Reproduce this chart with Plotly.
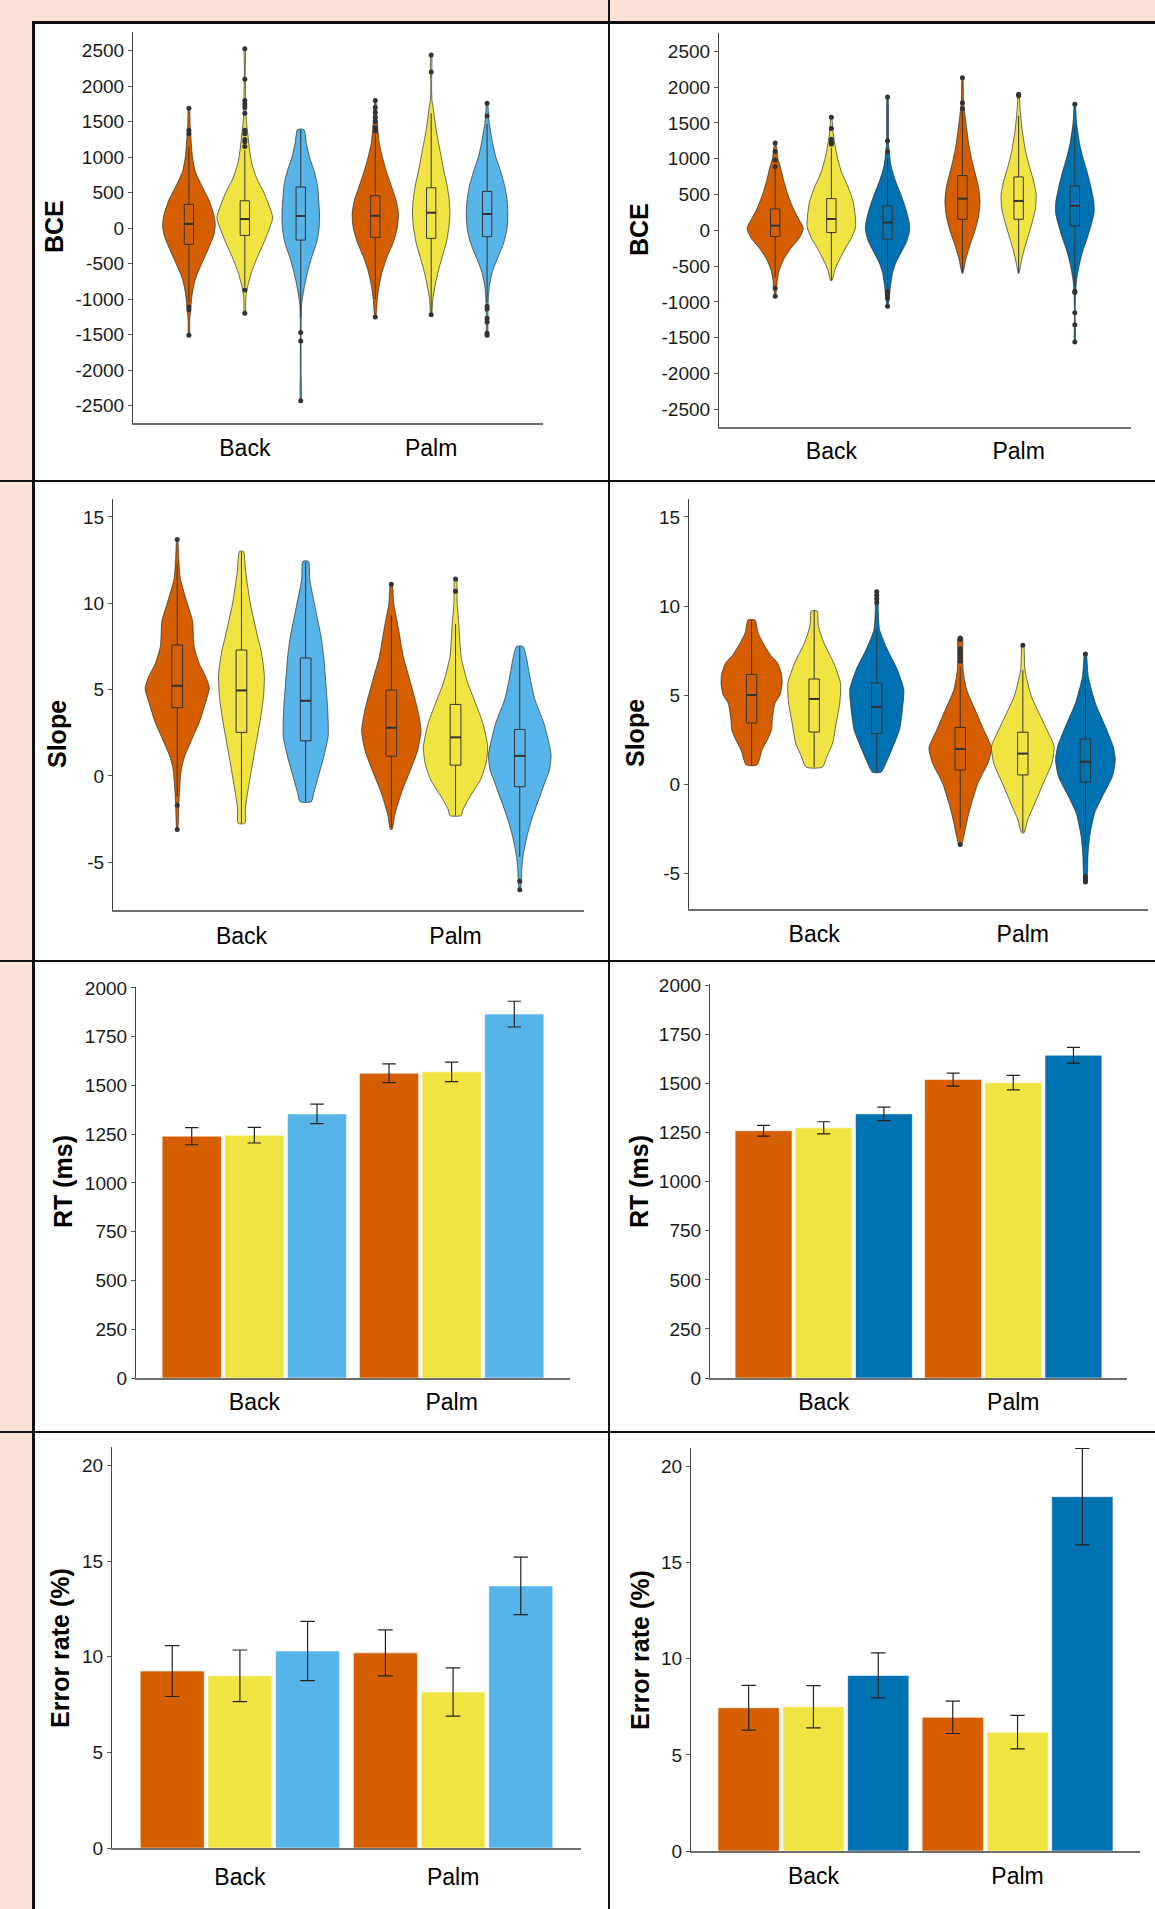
import plotly.graph_objects as go

W, H = 1155, 1909
GROUPS = ["Back", "Palm"]
COLORS_LEFT = ["#D55E00", "#F0E442", "#56B4E9"]
COLORS_RIGHT = ["#D55E00", "#F0E442", "#0072B2"]

# ---------------- BCE (left column) ----------------
# order: Back-orange, Back-yellow, Back-blue, Palm-orange, Palm-yellow, Palm-blue
BCE_L_VIOLIN_Y = [
    [-1510, -1300, -1100, -900, -700, -500, -300, -100, 50, 200, 400, 600, 800, 1000, 1200, 1450, 1690],
    [-1200, -950, -800, -600, -400, -200, 0, 150, 300, 500, 700, 900, 1100, 1300, 1500, 1900, 2200, 2530],
    [-2430, -2000, -1500, -1100, -1000, -800, -600, -400, -200, 0, 200, 400, 600, 800, 1000, 1200, 1390],
    [-1250, -1000, -800, -600, -400, -200, 0, 200, 400, 600, 800, 1000, 1200, 1500, 1800],
    [-1220, -1000, -800, -600, -400, -200, 0, 200, 400, 600, 800, 1100, 1400, 1700, 1800, 2000, 2440],
    [-1510, -1300, -1000, -800, -600, -400, -200, 0, 200, 400, 600, 800, 1000, 1200, 1500, 1760],
]
BCE_L_VIOLIN_D = [
    [1, 2, 5, 9, 17, 32, 48, 62, 66, 62, 50, 32, 16, 9, 6, 3, 1],
    [1, 3, 8, 18, 32, 48, 62, 70, 62, 48, 30, 18, 12, 8, 4, 2, 1, 1],
    [1, 1, 1, 2, 4, 10, 18, 28, 40, 46, 47, 45, 42, 34, 22, 14, 8],
    [1, 5, 10, 18, 30, 45, 55, 58, 52, 40, 28, 18, 10, 5, 1],
    [1, 4, 10, 18, 28, 38, 44, 47, 45, 40, 32, 22, 12, 5, 2, 1, 1],
    [1, 2, 3, 6, 14, 28, 42, 50, 52, 50, 44, 34, 22, 14, 5, 1],
]
BCE_L_Q1 = [-228, -101, -167, -129, -143, -120]
BCE_L_MED = [61, 129, 172, 176, 219, 200]
BCE_L_Q3 = [336, 387, 580, 458, 570, 519]
BCE_L_LOW = [-1050, -830, -1250, -1000, -1190, -1050]
BCE_L_HIGH = [1150, 1100, 1390, 1330, 1620, 1470]
BCE_L_OUTLIERS = [
    [1690, 1380, 1330, -1110, -1150, -1510],
    [2530, 2100, 1800, 1750, 1700, 1620, 1380, 1330, 1250, 1220, 1150, -870, -1200],
    [-1470, -1590, -2430],
    [1800, 1700, 1630, 1560, 1500, 1420, 1370, -1250],
    [2440, 2200, -1220],
    [1760, 1580, -1100, -1140, -1270, -1320, -1480, -1510],
]

# ---------------- BCE (right column) ----------------
BCE_R_VIOLIN_Y = [
    [-920, -700, -550, -400, -250, -100, 30, 150, 300, 500, 700, 900, 1000, 1220],
    [-700, -550, -400, -250, -100, 50, 200, 400, 600, 800, 1000, 1200, 1400, 1580],
    [-1060, -800, -600, -450, -300, -150, 0, 100, 300, 500, 700, 900, 1200, 1860],
    [-600, -400, -200, 0, 200, 400, 600, 800, 1000, 1200, 1500, 1800, 2130],
    [-600, -500, -300, -100, 100, 300, 500, 700, 900, 1100, 1400, 1700, 1900],
    [-1560, -1200, -900, -700, -500, -300, -100, 100, 250, 400, 600, 800, 1000, 1200, 1500, 1760],
]
BCE_R_VIOLIN_D = [
    [1, 6, 12, 25, 45, 70, 80, 68, 52, 36, 24, 14, 8, 1],
    [2, 10, 24, 40, 58, 69, 68, 62, 48, 30, 18, 10, 4, 1],
    [1, 8, 14, 24, 40, 55, 63, 62, 52, 38, 22, 10, 3, 1],
    [1, 10, 22, 36, 46, 50, 46, 36, 26, 18, 10, 3, 1],
    [1, 5, 14, 26, 38, 48, 50, 42, 30, 20, 10, 4, 1],
    [1, 1, 2, 5, 12, 22, 36, 48, 55, 54, 46, 36, 24, 14, 5, 1],
]
BCE_R_Q1 = [-88, -32, -125, 154, 154, 61]
BCE_R_MED = [65, 158, 108, 442, 410, 340]
BCE_R_Q3 = [298, 442, 340, 764, 745, 620]
BCE_R_LOW = [-660, -700, -800, -600, -600, -770]
BCE_R_HIGH = [870, 1150, 1000, 1670, 1600, 1450]
BCE_R_OUTLIERS = [
    [1220, 1100, 980, 890, -810, -920],
    [1580, 1420, 1270, 1230, 1200],
    [1860, 1250, 1100, -850, -870, -900, -950, -1060],
    [2130, 1780, 1700],
    [1900, 1880],
    [1760, -850, -870, -1150, -1320, -1560],
]

# ---------------- Slope (left column) ----------------
SLOPE_L_VIOLIN_Y = [
    [-3.1, -1.6, -0.8, 0.35, 1.1, 2.3, 3.1, 4.2, 5.1, 5.8, 6.5, 7.5, 9, 10, 11.4, 12.5, 13.7],
    [-2.75, -1.8, -0.6, 1.3, 3.25, 4.6, 5.8, 7.1, 8.1, 10, 11.9, 13.0],
    [-1.5, -1.0, 0, 1.1, 2.3, 3.8, 5.4, 6.9, 8.1, 9.6, 11.4, 12.43],
    [-3.1, -2.35, -1.8, -0.8, 0.35, 1.5, 2.6, 3.8, 5.4, 6.9, 8.5, 10, 11.1],
    [-2.3, -1.97, -1.2, -0.23, 0.74, 1.7, 3.05, 4.2, 5.4, 6.9, 8.85, 10, 11.46],
    [-6.64, -6.0, -5.4, -4.67, -3.5, -2.5, -1.58, -0.42, 0.35, 1.22, 3.05, 4.4, 5.4, 6.9, 7.5],
]
SLOPE_L_VIOLIN_D = [
    [1, 4, 6, 10, 18, 40, 55, 70, 80, 70, 55, 42, 38, 25, 8, 4, 1],
    [8, 10, 18, 32, 47, 55, 57, 50, 40, 22, 10, 5],
    [14, 20, 32, 45, 56, 55, 50, 45, 38, 25, 10, 7],
    [2, 8, 14, 28, 48, 66, 74, 66, 48, 30, 18, 6, 2],
    [14, 18, 36, 62, 76, 80, 68, 50, 30, 14, 8, 4, 2],
    [1, 4, 5, 8, 18, 30, 44, 62, 74, 78, 60, 38, 28, 16, 8],
]
SLOPE_L_Q1 = [3.95, 2.52, 2.03, 1.14, 0.62, -0.63]
SLOPE_L_MED = [5.22, 4.95, 4.35, 2.79, 2.23, 1.16]
SLOPE_L_Q3 = [7.58, 7.29, 6.83, 4.97, 4.14, 2.69]
SLOPE_L_LOW = [-1.2, -2.75, -1.5, -3.0, -2.3, -4.7]
SLOPE_L_HIGH = [12.3, 13.0, 12.4, 9.3, 8.8, 7.5]
SLOPE_L_OUTLIERS = [
    [13.7, -1.7, -3.1],
    [],
    [],
    [11.1],
    [11.4, 10.7],
    [-6.1, -6.6],
]

# ---------------- Slope (right column) ----------------
SLOPE_R_VIOLIN_Y = [
    [1.07, 1.93, 2.5, 3.05, 3.6, 4.55, 5.0, 5.67, 6.2, 6.8, 7.2, 7.9, 8.5, 9.21],
    [0.95, 1.55, 2.3, 3.43, 4.55, 5.67, 6.8, 7.9, 8.86, 9.72],
    [0.66, 1.18, 1.93, 3.05, 4.55, 5.3, 6.42, 7.55, 8.67, 9.8, 10.88],
    [-3.4, -2.94, -2.0, -1.07, 0.06, 1.18, 2.02, 3.05, 4.17, 5.3, 6.42, 7.55, 8.24],
    [-2.75, -2.0, -1.07, 0.06, 1.18, 2.12, 2.87, 3.8, 4.93, 6.42, 7.88],
    [-5.56, -4.81, -4.06, -2.94, -1.63, -0.69, 0.43, 1.37, 2.12, 3.05, 4.55, 6.05, 7.36],
]
SLOPE_R_VIOLIN_D = [
    [15, 30, 45, 56, 58, 66, 80, 86, 84, 73, 55, 33, 18, 10],
    [23, 36, 52, 62, 72, 74, 55, 28, 12, 8],
    [12, 26, 42, 64, 74, 76, 58, 30, 8, 4, 3],
    [4, 10, 20, 32, 50, 78, 88, 66, 42, 18, 8, 7, 6],
    [3, 14, 34, 58, 82, 88, 72, 50, 24, 6, 2],
    [3, 6, 7, 12, 26, 48, 76, 84, 78, 60, 28, 8, 2],
]
SLOPE_R_Q1 = [3.43, 2.92, 2.83, 0.79, 0.51, 0.11]
SLOPE_R_MED = [5.0, 4.78, 4.33, 1.97, 1.71, 1.25]
SLOPE_R_Q3 = [6.16, 5.9, 5.67, 3.18, 2.91, 2.53]
SLOPE_R_LOW = [1.07, 0.95, 0.66, -2.5, -2.7, -3.5]
SLOPE_R_HIGH = [9.21, 9.72, 8.7, 6.6, 6.4, 6.0]
SLOPE_R_OUTLIERS = [
    [],
    [],
    [10.2, 10.4, 10.6, 10.8],
    [8.2, 8.1, 7.6, 7.5, 7.3, 7.1, 6.9, -3.4],
    [7.8],
    [7.3, -5.2, -5.3, -5.4, -5.5],
]

# ---------------- RT and error rate (bars, mean +- SE) ----------------
RT_L_MEAN = [1240, 1245, 1354, 1563, 1570, 1866]
RT_L_SE = [44, 40, 50, 48, 50, 66]
RT_R_MEAN = [1260, 1275, 1346, 1521, 1505, 1645]
RT_R_SE = [27, 31, 34, 33, 37, 40]
ER_L_MEAN = [9.25, 9.0, 10.3, 10.2, 8.15, 13.7]
ER_L_SE = [1.33, 1.35, 1.55, 1.2, 1.26, 1.5]
ER_R_MEAN = [7.45, 7.5, 9.13, 6.95, 6.18, 18.43]
ER_R_SE = [1.16, 1.1, 1.17, 0.84, 0.87, 2.51]

# tick labels
BCE_TICKS = [-2500, -2000, -1500, -1000, -500, 0, 500, 1000, 1500, 2000, 2500]
SLOPE_TICKS = [-5, 0, 5, 10, 15]
RT_TICKS = [0, 250, 500, 750, 1000, 1250, 1500, 1750, 2000]
ER_TICKS = [0, 5, 10, 15, 20]

FONT = "Liberation Sans, Arial, sans-serif"
PEACH = "#FAE3D6"

fig = go.Figure()

# panel geometry in pixels: x=(left,right) of axis, y=(top,bottom) of axis
panels = [
    dict(kind="violin", x=(133, 543), y=(32, 423), yr=[-2745, 2765], ticks=BCE_TICKS, colors=COLORS_LEFT,
         vy=BCE_L_VIOLIN_Y, vd=BCE_L_VIOLIN_D, q1=BCE_L_Q1, med=BCE_L_MED, q3=BCE_L_Q3,
         lo=BCE_L_LOW, hi=BCE_L_HIGH, out=BCE_L_OUTLIERS, title="BCE", tx=54, ty=227, xl=3),
    dict(kind="violin", x=(719, 1131), y=(33, 427), yr=[-2747, 2755], ticks=BCE_TICKS, colors=COLORS_RIGHT,
         vy=BCE_R_VIOLIN_Y, vd=BCE_R_VIOLIN_D, q1=BCE_R_Q1, med=BCE_R_MED, q3=BCE_R_Q3,
         lo=BCE_R_LOW, hi=BCE_R_HIGH, out=BCE_R_OUTLIERS, title="BCE", tx=639, ty=230, xl=2),
    dict(kind="violin", x=(113, 584), y=(499, 910), yr=[-7.77, 16.04], ticks=SLOPE_TICKS, colors=COLORS_LEFT,
         vy=SLOPE_L_VIOLIN_Y, vd=SLOPE_L_VIOLIN_D, q1=SLOPE_L_Q1, med=SLOPE_L_MED, q3=SLOPE_L_Q3,
         lo=SLOPE_L_LOW, hi=SLOPE_L_HIGH, out=SLOPE_L_OUTLIERS, title="Slope", tx=57, ty=734, xl=4),
    dict(kind="violin", x=(689, 1148), y=(499, 909), yr=[-7.02, 16.01], ticks=SLOPE_TICKS, colors=COLORS_RIGHT,
         vy=SLOPE_R_VIOLIN_Y, vd=SLOPE_R_VIOLIN_D, q1=SLOPE_R_Q1, med=SLOPE_R_MED, q3=SLOPE_R_Q3,
         lo=SLOPE_R_LOW, hi=SLOPE_R_HIGH, out=SLOPE_R_OUTLIERS, title="Slope", tx=635, ty=733, xl=3),
    dict(kind="bar", x=(136, 570), y=(987, 1378), yr=[0, 2005], ticks=RT_TICKS, colors=COLORS_LEFT,
         mean=RT_L_MEAN, se=RT_L_SE, cap=6.7, title="RT (ms)", tx=63, ty=1182, xl=2.5),
    dict(kind="bar", x=(710, 1127), y=(984, 1378), yr=[0, 2008], ticks=RT_TICKS, colors=COLORS_RIGHT,
         mean=RT_R_MEAN, se=RT_R_SE, cap=6.5, title="RT (ms)", tx=639, ty=1182, xl=2),
    dict(kind="bar", x=(112, 581), y=(1447, 1848), yr=[0, 20.96], ticks=ER_TICKS, colors=COLORS_LEFT,
         mean=ER_L_MEAN, se=ER_L_SE, cap=7.3, title="Error rate (%)", tx=60, ty=1648, xl=7),
    dict(kind="bar", x=(691, 1140), y=(1448, 1851), yr=[0, 20.96], ticks=ER_TICKS, colors=COLORS_RIGHT,
         mean=ER_R_MEAN, se=ER_R_SE, cap=7.2, title="Error rate (%)", tx=640, ty=1650, xl=3),
]

VIOLIN_DODGE = 0.3
VIOLIN_HALF = 0.15
BAR_DODGE = 0.3175
BAR_WIDTH = 0.3
BOX_WIDTH = 0.05
NP = len(panels)

annotations = []
for pi, p in enumerate(panels, start=1):
    xa = "x" if pi == 1 else f"x{pi}"
    ya = "y" if pi == 1 else f"y{pi}"
    ya_top = f"y{pi + NP}"   # overlay axis so boxes/points draw above the violin fills
    if p["kind"] == "violin":
        dmax = max(max(d) for d in p["vd"])
        for k in range(6):
            g, c = divmod(k, 3)
            center = (g + 1) + (c - 1) * VIOLIN_DODGE
            ys = p["vy"][k]
            hw = [d / dmax * VIOLIN_HALF for d in p["vd"][k]]
            px = [center + w for w in hw] + [center - w for w in reversed(hw)] + [center + hw[0]]
            py = list(ys) + list(reversed(ys)) + [ys[0]]
            fig.add_trace(go.Scatter(
                x=px, y=py, mode="lines", fill="toself", fillcolor=p["colors"][c],
                line=dict(color="rgba(40,40,40,0.85)", width=0.8, shape="spline", smoothing=0.6),
                xaxis=xa, yaxis=ya, hoverinfo="skip", showlegend=False))
            fig.add_trace(go.Box(
                x=[center], q1=[p["q1"][k]], median=[p["med"][k]], q3=[p["q3"][k]],
                lowerfence=[p["lo"][k]], upperfence=[p["hi"][k]], width=BOX_WIDTH,
                orientation="v", fillcolor=p["colors"][c], line=dict(color="#333333", width=1),
                whiskerwidth=0, boxpoints=False, xaxis=xa, yaxis=ya_top,
                hoverinfo="skip", showlegend=False))
            # thicker median bar, as in the original boxplots
            fig.add_trace(go.Scatter(
                x=[center - BOX_WIDTH / 2, center + BOX_WIDTH / 2], y=[p["med"][k], p["med"][k]],
                mode="lines", line=dict(color="#333333", width=2), xaxis=xa, yaxis=ya_top,
                hoverinfo="skip", showlegend=False))
            if p["out"][k]:
                fig.add_trace(go.Scatter(
                    x=[center] * len(p["out"][k]), y=p["out"][k], mode="markers",
                    marker=dict(color="#333333", size=5), xaxis=xa, yaxis=ya_top,
                    hoverinfo="skip", showlegend=False))
    else:
        for c in range(3):
            off = (c - 1) * BAR_DODGE
            fig.add_trace(go.Bar(
                x=[1 + off, 2 + off], y=[p["mean"][c], p["mean"][c + 3]], width=BAR_WIDTH,
                marker=dict(color=p["colors"][c], line=dict(color="rgba(255,255,255,0.55)", width=1)),
                error_y=dict(type="data", array=[p["se"][c], p["se"][c + 3]], visible=True,
                             color="#222222", thickness=1.2, width=p["cap"]),
                xaxis=xa, yaxis=ya, hoverinfo="skip", showlegend=False))

    x0, x1 = p["x"]
    yt, yb = p["y"]
    xkey = "xaxis" if pi == 1 else f"xaxis{pi}"
    ykey = "yaxis" if pi == 1 else f"yaxis{pi}"
    fig.update_layout({
        xkey: dict(domain=[x0 / W, x1 / W], range=[0.4, 2.6], tickvals=[1, 2], ticktext=GROUPS,
                   anchor=ya, showline=True, linecolor="#6e6e6e", linewidth=1.8, showgrid=False,
                   zeroline=False, ticks="outside", ticklen=p["xl"], tickcolor="rgba(0,0,0,0)",
                   tickfont=dict(family=FONT, size=23, color="#000000"), fixedrange=True,
                   automargin=False),
        ykey: dict(domain=[1 - yb / H, 1 - yt / H], range=p["yr"], tickvals=p["ticks"],
                   ticktext=[str(t) for t in p["ticks"]], anchor=xa, showline=True,
                   linecolor="#444444", linewidth=1.2, showgrid=False, zeroline=False,
                   ticks="outside", ticklen=4, tickwidth=1, tickcolor="#555555",
                   tickfont=dict(family=FONT, size=19, color="#1a1a1a"), fixedrange=True,
                   automargin=False),
        f"yaxis{pi + NP}": dict(overlaying=ya, anchor=xa, range=p["yr"], visible=False,
                                showgrid=False, zeroline=False, fixedrange=True, automargin=False),
    })
    annotations.append(dict(text=f"<b>{p['title']}</b>", x=p["tx"] / W, y=1 - p["ty"] / H,
                            xref="paper", yref="paper", xanchor="center", yanchor="middle",
                            textangle=-90, showarrow=False,
                            font=dict(family=FONT, size=25, color="#000000")))

shapes = [
    dict(type="rect", xref="paper", yref="paper", x0=0, x1=33 / W, y0=0, y1=1,
         fillcolor=PEACH, line=dict(width=0), layer="below"),
    dict(type="rect", xref="paper", yref="paper", x0=0, x1=1, y0=1 - 22 / H, y1=1,
         fillcolor=PEACH, line=dict(width=0), layer="below"),
]
LINE = "#111111"
for yy in [481, 961, 1432]:
    shapes.append(dict(type="line", xref="paper", yref="paper", x0=0, x1=1,
                       y0=1 - yy / H, y1=1 - yy / H, line=dict(color=LINE, width=2)))
shapes.append(dict(type="line", xref="paper", yref="paper", x0=32 / W, x1=1,
                   y0=1 - 22.5 / H, y1=1 - 22.5 / H, line=dict(color=LINE, width=3)))
shapes.append(dict(type="line", xref="paper", yref="paper", x0=33.5 / W, x1=33.5 / W,
                   y0=0, y1=1 - 21 / H, line=dict(color=LINE, width=3)))
shapes.append(dict(type="line", xref="paper", yref="paper", x0=609 / W, x1=609 / W,
                   y0=0, y1=1, line=dict(color=LINE, width=2)))

fig.update_layout(
    template="none",
    width=W, height=H, autosize=False,
    margin=dict(l=0, r=0, t=0, b=0, pad=0, autoexpand=False),
    paper_bgcolor="white", plot_bgcolor="rgba(0,0,0,0)",
    showlegend=False, barmode="overlay", boxmode="overlay",
    shapes=shapes, annotations=annotations,
    font=dict(family=FONT),
)

fig.write_html("out.html", config={"displayModeBar": False},
               post_script="document.body.style.margin='0';document.body.style.overflow='hidden';")
